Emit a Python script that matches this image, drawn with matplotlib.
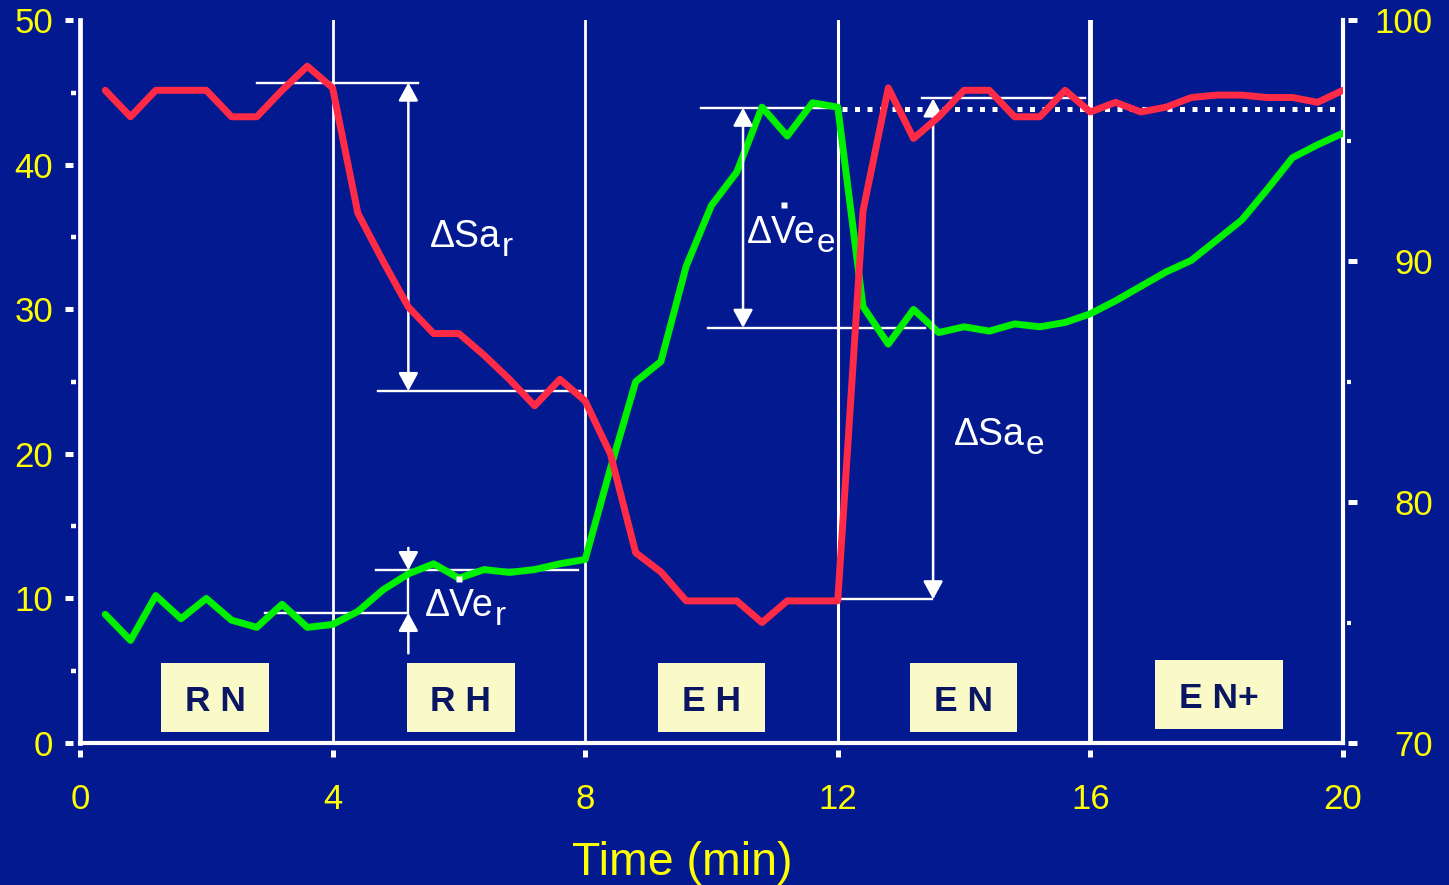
import matplotlib
matplotlib.use("Agg")
from matplotlib import pyplot as plt
from matplotlib.path import Path
from matplotlib.patches import Rectangle

plt.rcParams['font.family'] = ['Liberation Sans', 'DejaVu Sans']

# 時間 (分)、0.4分ごとのサンプル
time_min = [0.4, 0.8, 1.2, 1.6, 2.0, 2.4, 2.8, 3.2, 3.6, 4.0,
            4.4, 4.8, 5.2, 5.6, 6.0, 6.4, 6.8, 7.2, 7.6, 8.0,
            8.4, 8.8, 9.2, 9.6, 10.0, 10.4, 10.8, 11.2, 11.6, 12.0,
            12.4, 12.8, 13.2, 13.6, 14.0, 14.4, 14.8, 15.2, 15.6, 16.0,
            16.4, 16.8, 17.2, 17.6, 18.0, 18.4, 18.8, 19.2, 19.6, 20.0]

# 換気量 (左軸)
ve = [8.9, 7.1, 10.2, 8.6, 10.0, 8.5, 8.0, 9.6, 8.0, 8.2,
      9.1, 10.6, 11.7, 12.4, 11.4, 12.0, 11.8, 12.0, 12.4, 12.7,
      19.0, 25.0, 26.4, 33.0, 37.2, 39.5, 44.0, 42.0, 44.3, 44.0,
      30.2, 27.6, 30.0, 28.4, 28.8, 28.5, 29.0, 28.8, 29.1, 29.7,
      30.6, 31.6, 32.6, 33.4, 34.8, 36.2, 38.3, 40.5, 41.4, 42.2]

# 酸素飽和度 % (右軸)
sao2 = [97.1, 96.0, 97.1, 97.1, 97.1, 96.0, 96.0, 97.1, 98.1, 97.2,
        92.0, 90.0, 88.1, 87.0, 87.0, 86.1, 85.1, 84.0, 85.1, 84.2,
        82.0, 77.9, 77.1, 75.9, 75.9, 75.9, 75.0, 75.9, 75.9, 75.9,
        92.1, 97.2, 95.1, 96.0, 97.1, 97.1, 96.0, 96.0, 97.1, 96.2,
        96.6, 96.2, 96.4, 96.8, 96.9, 96.9, 96.8, 96.8, 96.6, 97.1]

x_ticks = [0, 4, 8, 12, 16, 20]
left_ticks = [0, 10, 20, 30, 40, 50]
left_minor = [5, 15, 25, 35, 45]
right_ticks = [70, 80, 90, 100]
right_minor = [75, 85, 95]

phase_edges = [4, 8, 12, 16]
phase_names = ["R N", "R H", "E H", "E N", "E N+"]
phase_x = [2.14, 6.03, 10.0, 13.99, 18.04]
phase_y = [3.17, 3.17, 3.17, 3.17, 3.37]
phase_w = [1.70, 1.71, 1.68, 1.69, 2.02]

bg = '#03198F'
yellow = '#FFFF00'
red = '#FF2A45'
green = '#00F000'
box_fill = '#FAFAC9'
box_text = '#0B1663'

fig = plt.figure(figsize=(14.49, 8.85), dpi=100)
fig.patch.set_facecolor(bg)
ax = fig.add_axes([0.0552, 0.1605, 0.8716, 0.8164])
ax.set_facecolor(bg)
ax2 = ax.twinx()

# 相の区切り線
for xe, lw in zip(phase_edges, [2, 2, 2.2, 3.5]):
    ax.axvline(xe, color='white', lw=lw, zorder=1)

ax.plot(time_min, ve, color=green, lw=5, solid_joinstyle='round', solid_capstyle='round', zorder=3)
ax2.plot(time_min, sao2, color=red, lw=5, solid_joinstyle='round', solid_capstyle='round', zorder=3)

# 注釈の線と矢印
hl = dict(color='white', lw=1.7, zorder=2)
ax.plot([2.81, 5.35], [45.7, 45.7], **hl)
ax.plot([4.72, 7.92], [24.35, 24.35], **hl)
ax.plot([4.69, 7.88], [11.96, 11.96], **hl)
ax.plot([2.93, 5.18], [9.0, 9.0], **hl)
ax.plot([9.83, 11.93], [43.96, 43.96], **hl)
ax.plot([9.94, 13.38], [28.73, 28.73], **hl)
ax.plot([13.33, 15.91], [44.6, 44.6], **hl)
ax.plot([11.98, 13.5], [9.94, 9.94], **hl)
ax.plot([5.2, 5.2], [9.0, 11.96], **hl)
ax.plot([12.06, 19.95], [43.85, 43.85], color='white', lw=3.6,
        linestyle=(0, (1, 1.5)), dash_capstyle='butt', zorder=2)


def arrow(x, y0, y1, style):
    ax.annotate('', xy=(x, y1), xytext=(x, y0), zorder=4,
                arrowprops=dict(arrowstyle=style + ',head_length=0.55,head_width=0.3',
                                color='white', lw=1.8, shrinkA=0, shrinkB=0,
                                mutation_scale=20))


arrow(5.2, 45.7, 24.35, '<|-|>')
arrow(10.5, 43.96, 28.73, '<|-|>')
arrow(13.51, 44.6, 9.94, '<|-|>')
arrow(5.2, 13.5, 11.96, '-|>')
arrow(5.2, 6.2, 9.0, '-|>')


def delta_label(x, y, main, sub):
    t = ax.text(x, y, main, color='white', fontsize=27, va='baseline', zorder=5)
    ax.annotate(sub, xy=(1, 0), xycoords=t, xytext=(1, -8),
                textcoords='offset pixels', color='white', fontsize=24,
                va='bottom', ha='left', zorder=5)


delta_label(5.54, 34.3, 'ΔSa', 'r')
delta_label(5.46, 8.8, 'ΔVe', 'r')
delta_label(10.56, 34.6, 'ΔVe', 'e')
delta_label(13.84, 20.6, 'ΔSa', 'e')
ax.plot([6.0, 11.15], [11.34, 37.2], 's', color='white', ms=4.8, mec='none', zorder=5)

# 相のラベル
for name, cx, cy, w in zip(phase_names, phase_x, phase_y, phase_w):
    ax.add_patch(Rectangle((cx - w / 2, cy - 2.385), w, 4.77, facecolor=box_fill,
                           edgecolor='none', zorder=4))
    ax.text(cx, cy - 0.94, name, ha='center', va='baseline', fontsize=25.5,
            fontweight='bold', color=box_text, zorder=5)

ax.set_xlim(0, 20)
ax.set_ylim(0, 50)
ax2.set_ylim(70, 100)
ax.set_xticks(x_ticks)
ax.set_yticks(left_ticks)
ax.set_yticks(left_minor, minor=True)
ax2.set_yticks(right_ticks)
ax2.set_yticks(right_minor, minor=True)

for s in ['left', 'bottom', 'right']:
    ax.spines[s].set_color('white')
ax.spines['left'].set_linewidth(3.4)
ax.spines['bottom'].set_linewidth(3)
ax.spines['right'].set_linewidth(3)
ax.spines['top'].set_visible(False)
for s in ax2.spines.values():
    s.set_visible(False)

ax.tick_params(axis='y', which='major', length=10.8, width=3.6, color='white',
               labelcolor=yellow, labelsize=25, pad=8.6)
ax.tick_params(axis='y', which='minor', length=6.5, width=3.2, color='white')
ax.tick_params(axis='x', which='major', length=10, width=3.6, color='white',
               labelcolor=yellow, labelsize=25, pad=18.8)
ax2.tick_params(axis='y', which='major', length=10, width=3.6, color='white',
                labelcolor=yellow, labelsize=25, pad=54.8)
ax2.tick_params(axis='y', which='minor', length=5.5, width=3, color='white')

ax.set_xlabel('Time (min)', color=yellow, fontsize=33.5)
ax.xaxis.set_label_coords(0.4766, -0.1827)
ax.xaxis.label.set_va('baseline')


# 軸から少し離れた目盛り
def gap_ticks(ticks, attr, verts, ms):
    for t in ticks:
        line = getattr(t, attr)
        line.set_marker(Path(verts))
        line.set_markersize(ms)


gap_ticks(ax.yaxis.get_major_ticks(), 'tick1line', [(-15, 0), (-7, 0)], 21.6)
gap_ticks(ax.yaxis.get_minor_ticks(), 'tick1line', [(-9, 0), (-4.3, 0)], 13)
gap_ticks(ax.xaxis.get_major_ticks(), 'tick1line', [(0, -14), (0, -7)], 20.2)
gap_ticks(ax2.yaxis.get_major_ticks(), 'tick2line', [(14, 0), (5, 0)], 20.2)
gap_ticks(ax2.yaxis.get_minor_ticks(), 'tick2line', [(7.7, 0), (3.7, 0)], 11.1)
for t in ax2.yaxis.get_major_ticks():
    t.label2.set_horizontalalignment('right')

fig.savefig('out.png', dpi=100, facecolor=bg)
